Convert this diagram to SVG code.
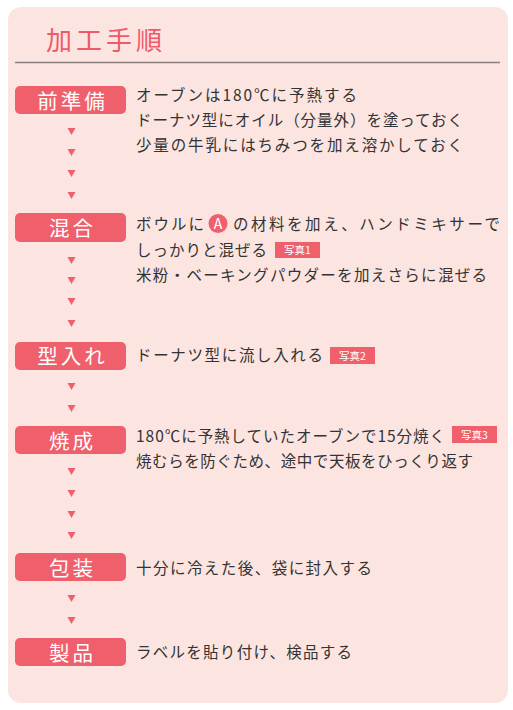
<svg xmlns="http://www.w3.org/2000/svg" width="513" height="710" viewBox="0 0 513 710">
<defs>
<style>
.bg{fill:#fce5e1}
.lbl rect{fill:#f05f6c}
.lbl text{fill:#fff;font-family:"Noto Sans CJK JP","Noto Sans",sans-serif;font-size:20.5px;text-anchor:middle}
.t{fill:#333;font-family:"Noto Sans CJK JP","Noto Sans",sans-serif;font-size:15.5px}
.badge rect{fill:#f05f6c}
.badge text{fill:#fff;font-family:"Noto Sans CJK JP","Noto Sans",sans-serif;font-size:10.5px;text-anchor:middle}
.arr{fill:#f05f6c}
</style>
<path id="tri" d="M-4,0 L4,0 L0,7 Z"/>
</defs>
<rect width="513" height="710" fill="#fff"/>
<rect class="bg" x="8" y="7" width="500" height="696" rx="13"/>
<g id="title">
<text x="46" y="50" font-family="'Noto Sans CJK JP','Noto Sans',sans-serif" font-size="26" fill="#ee5a6a" textLength="116" lengthAdjust="spacing">加工手順</text>
<line x1="15" y1="62.5" x2="500" y2="62.5" stroke="#8c7e7e" stroke-width="1.3"/>
</g>

<g id="step1" class="lbl">
<rect x="15" y="86" width="111" height="28" rx="5"/>
<text x="71" y="108.5" letter-spacing="3" dx="1.5">前準備</text>
</g>
<g id="step1-text">
<text class="t" x="136" y="101" textLength="221" lengthAdjust="spacing">オーブンは180℃に予熱する</text>
<text class="t" x="136" y="126" textLength="327" lengthAdjust="spacing">ドーナツ型にオイル（分量外）を塗っておく</text>
<text class="t" x="136" y="151" textLength="327" lengthAdjust="spacing">少量の牛乳にはちみつを加え溶かしておく</text>
</g>

<g id="step2" class="lbl">
<rect x="15" y="213" width="111" height="29" rx="5"/>
<text x="71" y="235.5" letter-spacing="3" dx="1.5">混合</text>
</g>
<g id="step2-text">
<text class="t" x="136" y="230" textLength="68" lengthAdjust="spacing">ボウルに</text>
<circle cx="218" cy="223.5" r="9.5" fill="#f05f6c"/>
<text x="218" y="228.5" font-family="'Noto Sans CJK JP','Noto Sans',sans-serif" font-size="14" fill="#fff" text-anchor="middle">A</text>
<text class="t" x="233" y="230" textLength="267" lengthAdjust="spacing">の材料を加え、ハンドミキサーで</text>
<text class="t" x="136" y="256" textLength="131" lengthAdjust="spacing">しっかりと混ぜる</text>
<g class="badge"><rect x="275" y="242" width="45" height="16"/><text x="297.5" y="254">写真1</text></g>
<text class="t" x="136" y="281" textLength="351" lengthAdjust="spacing">米粉・ベーキングパウダーを加えさらに混ぜる</text>
</g>

<g id="step3" class="lbl">
<rect x="15" y="342" width="111" height="28" rx="5"/>
<text x="71" y="364" letter-spacing="3" dx="1.5">型入れ</text>
</g>
<g id="step3-text">
<text class="t" x="136" y="361" textLength="187" lengthAdjust="spacing">ドーナツ型に流し入れる</text>
<g class="badge"><rect x="330" y="347" width="45" height="17"/><text x="352.5" y="359.5">写真2</text></g>
</g>

<g id="step4" class="lbl">
<rect x="15" y="426" width="111" height="28" rx="5"/>
<text x="71" y="448.5" letter-spacing="3" dx="1.5">焼成</text>
</g>
<g id="step4-text">
<text class="t" x="136" y="442" textLength="309" lengthAdjust="spacing">180℃に予熱していたオーブンで15分焼く</text>
<g class="badge"><rect x="452" y="426" width="45" height="17"/><text x="474.5" y="438.5">写真3</text></g>
<text class="t" x="136" y="467" textLength="337" lengthAdjust="spacing">焼むらを防ぐため、途中で天板をひっくり返す</text>
</g>

<g id="step5" class="lbl">
<rect x="15" y="553" width="111" height="28" rx="5"/>
<text x="71" y="575.5" letter-spacing="3" dx="1.5">包装</text>
</g>
<g id="step5-text">
<text class="t" x="136" y="574" textLength="236" lengthAdjust="spacing">十分に冷えた後、袋に封入する</text>
</g>

<g id="step6" class="lbl">
<rect x="15" y="638" width="111" height="28" rx="5"/>
<text x="71" y="660.5" letter-spacing="3" dx="1.5">製品</text>
</g>
<g id="step6-text">
<text class="t" x="136" y="658" textLength="216" lengthAdjust="spacing">ラベルを貼り付け、検品する</text>
</g>

<g id="connectors" class="arr">
<use href="#tri" x="71.5" y="128"/>
<use href="#tri" x="71.5" y="149"/>
<use href="#tri" x="71.5" y="170"/>
<use href="#tri" x="71.5" y="192"/>
<use href="#tri" x="71.5" y="257"/>
<use href="#tri" x="71.5" y="277"/>
<use href="#tri" x="71.5" y="298"/>
<use href="#tri" x="71.5" y="320"/>
<use href="#tri" x="71.5" y="383"/>
<use href="#tri" x="71.5" y="405"/>
<use href="#tri" x="71.5" y="468"/>
<use href="#tri" x="71.5" y="490"/>
<use href="#tri" x="71.5" y="511"/>
<use href="#tri" x="71.5" y="532"/>
<use href="#tri" x="71.5" y="595"/>
<use href="#tri" x="71.5" y="617"/>
</g>
</svg>
